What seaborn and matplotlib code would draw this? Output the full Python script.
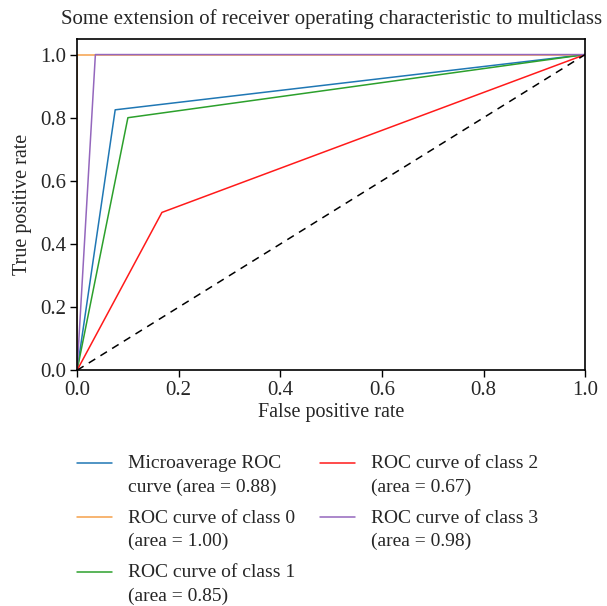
import matplotlib
matplotlib.use("Agg")
import matplotlib.pyplot as plt
from matplotlib.legend_handler import HandlerLine2D
from matplotlib.lines import Line2D
import numpy as np
import seaborn as sns
import pandas as pd

sns.set_theme(style="ticks")
plt.rcParams['font.family'] = ['Liberation Serif', 'DejaVu Serif']

labels = ["Microaverage ROC\ncurve (area = 0.88)",
          "ROC curve of class 0\n(area = 1.00)",
          "ROC curve of class 1\n(area = 0.85)",
          "ROC curve of class 2\n(area = 0.67)",
          "ROC curve of class 3\n(area = 0.98)"]
colors = ["#1f77b4", "#f5a04a", "#2ca02c", "#ff1a1a", "#9467bd"]
fpr = [[0.0, 0.075, 1.0],
       [0.0, 0.0, 1.0],
       [0.0, 0.1, 1.0],
       [0.0, 0.167, 1.0],
       [0.0, 0.036, 1.0]]
tpr = [[0.0, 0.825, 1.0],
       [0.0, 1.0, 1.0],
       [0.0, 0.8, 1.0],
       [0.0, 0.5, 1.0],
       [0.0, 1.0, 1.0]]
diag_x = [0.0, 1.0]
diag_y = [0.0, 1.0]

LEG_FS = 14


class TopHandler(HandlerLine2D):
    def create_artists(self, legend, orig_handle, xdescent, ydescent,
                       width, height, fontsize, trans):
        arts = super().create_artists(legend, orig_handle, xdescent, ydescent,
                                      width, height, fontsize, trans)
        for a in arts:
            if isinstance(a, Line2D):
                a.set_ydata(np.asarray(a.get_ydata()) + 0.64 * fontsize)
        return arts


fig = plt.figure(figsize=(6.07, 6.06), dpi=100)
ax = fig.add_axes([0.127, 0.389, 0.837, 0.547])

for lab, c, x, y in zip(labels, colors, fpr, tpr):
    df = pd.DataFrame({"x": x, "y": y})
    sns.lineplot(data=df, x="x", y="y", ax=ax, color=c, label=lab,
                 sort=False, estimator=None, linewidth=1.1)
sns.lineplot(x=diag_x, y=diag_y, ax=ax, color="black", linestyle=(0, (5, 4)),
             linewidth=1.1, sort=False, estimator=None)

ax.set_xlim(0, 1)
ax.set_ylim(0, 1.05)
ax.set_xticks([0, 0.2, 0.4, 0.6, 0.8, 1.0])
ax.set_yticks([0, 0.2, 0.4, 0.6, 0.8, 1.0])
ax.tick_params(labelsize=15, length=5, width=1, direction="out", color="black",
               pad=3)
for s in ax.spines.values():
    s.set_color("black")
    s.set_linewidth(1.2)
ax.set_xlabel("False positive rate", fontsize=14.5, labelpad=2)
ax.set_ylabel("True positive rate", fontsize=14.5, labelpad=6)
ax.set_title("Some extension of receiver operating characteristic to multiclass",
             fontsize=15, pad=11)

handles, labs = ax.get_legend_handles_labels()
leg = ax.legend(handles, labs, loc="upper left", bbox_to_anchor=(0.0, -0.255),
                ncol=2, frameon=False, fontsize=LEG_FS, handlelength=1.8,
                handletextpad=0.8, columnspacing=1.3, labelspacing=0.71,
                borderpad=0, borderaxespad=0,
                handler_map={Line2D: TopHandler()})
for t in leg.get_texts():
    t.set_linespacing(1.5)

fig.savefig("out.png", dpi=100)
